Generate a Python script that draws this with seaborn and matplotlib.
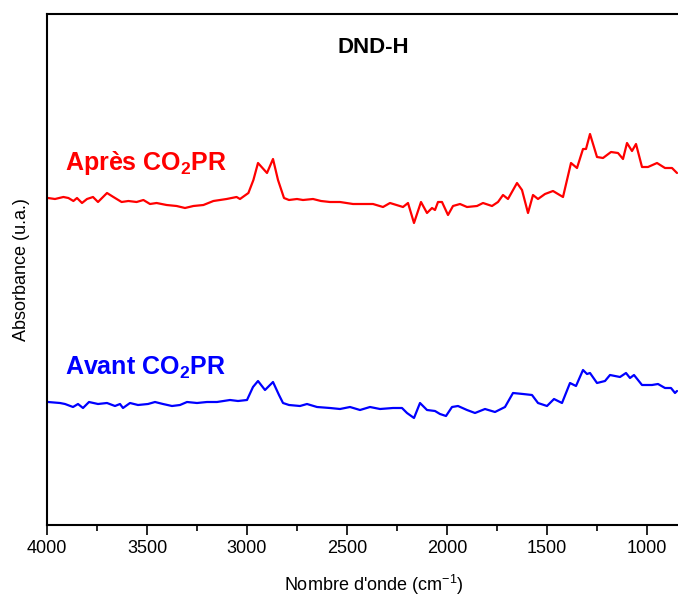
import numpy as np
import pandas as pd

import matplotlib
matplotlib.use("Agg")
import matplotlib.pyplot as plt
import seaborn as sns
from matplotlib.ticker import MultipleLocator


# Data (wavenumber in cm-1, absorbance in arbitrary units)

apres_wn = [3995, 3960, 3918, 3893, 3868, 3850, 3825, 3800, 3770, 3745,
            3700, 3668, 3627, 3593, 3552, 3518, 3485, 3452, 3402, 3352,
            3310, 3268, 3218, 3168, 3102, 3052, 3035, 2993, 2968, 2945,
            2900, 2870, 2845, 2815, 2790, 2750, 2720, 2670, 2630, 2585,
            2535, 2470, 2370, 2320, 2285, 2220, 2195, 2165, 2130, 2100,
            2075, 2060, 2045, 2025, 1995, 1970, 1935, 1900, 1850, 1820,
            1775, 1745, 1720, 1695, 1650, 1625, 1595, 1570, 1545, 1510,
            1470, 1420, 1380, 1350, 1320, 1305, 1285, 1250, 1220, 1180,
            1145, 1120, 1100, 1075, 1055, 1025, 995, 950, 910, 875, 850]
apres_abs = [3.27, 3.26, 3.28, 3.27, 3.24, 3.27, 3.22, 3.26, 3.28, 3.23,
             3.32, 3.28, 3.23, 3.24, 3.23, 3.25, 3.21, 3.22, 3.20, 3.19,
             3.17, 3.19, 3.20, 3.24, 3.26, 3.28, 3.26, 3.32, 3.45, 3.62,
             3.52, 3.66, 3.45, 3.27, 3.25, 3.26, 3.25, 3.26, 3.24, 3.23,
             3.23, 3.21, 3.21, 3.18, 3.22, 3.18, 3.22, 3.02, 3.23, 3.12,
             3.17, 3.15, 3.23, 3.23, 3.10, 3.19, 3.21, 3.18, 3.19, 3.22,
             3.19, 3.23, 3.30, 3.26, 3.42, 3.35, 3.12, 3.30, 3.26, 3.31,
             3.34, 3.28, 3.62, 3.57, 3.76, 3.76, 3.91, 3.68, 3.67, 3.73,
             3.72, 3.66, 3.82, 3.74, 3.81, 3.58, 3.58, 3.62, 3.57, 3.57,
             3.52]

avant_wn = [3995, 3935, 3910, 3870, 3845, 3820, 3790, 3745, 3700, 3660,
            3635, 3620, 3585, 3545, 3495, 3460, 3420, 3375, 3335, 3300,
            3250, 3200, 3150, 3085, 3045, 3000, 2970, 2945, 2910, 2870,
            2840, 2820, 2790, 2735, 2700, 2650, 2585, 2535, 2485, 2435,
            2385, 2335, 2270, 2225, 2200, 2165, 2135, 2100, 2060, 2035,
            2005, 1975, 1945, 1900, 1860, 1810, 1760, 1710, 1670, 1620,
            1575, 1545, 1500, 1465, 1425, 1385, 1355, 1320, 1300, 1285,
            1250, 1210, 1185, 1135, 1105, 1085, 1065, 1025, 975, 945,
            910, 880, 860, 850]
avant_abs = [1.23, 1.22, 1.21, 1.18, 1.21, 1.17, 1.23, 1.21, 1.22, 1.19,
             1.21, 1.17, 1.22, 1.20, 1.21, 1.23, 1.21, 1.19, 1.20, 1.23,
             1.22, 1.23, 1.23, 1.25, 1.24, 1.25, 1.38, 1.44, 1.35, 1.43,
             1.30, 1.22, 1.20, 1.19, 1.21, 1.18, 1.17, 1.16, 1.18, 1.15,
             1.18, 1.16, 1.17, 1.17, 1.12, 1.07, 1.22, 1.15, 1.14, 1.11,
             1.09, 1.18, 1.19, 1.15, 1.12, 1.16, 1.13, 1.18, 1.32, 1.31,
             1.30, 1.22, 1.19, 1.26, 1.22, 1.42, 1.39, 1.55, 1.51, 1.52,
             1.42, 1.44, 1.50, 1.48, 1.52, 1.47, 1.50, 1.40, 1.40, 1.41,
             1.37, 1.37, 1.32, 1.34]

x_ticks = [4000, 3500, 3000, 2500, 2000, 1500, 1000]


df_apres = pd.DataFrame({"wn": apres_wn, "abs": apres_abs})
df_avant = pd.DataFrame({"wn": avant_wn, "abs": avant_abs})


sns.set_style("ticks")
plt.rcParams["font.family"] = ["Liberation Sans", "DejaVu Sans"]
plt.rcParams["mathtext.fontset"] = "custom"
plt.rcParams["mathtext.rm"] = "Liberation Sans"
plt.rcParams["mathtext.bf"] = "Liberation Sans:bold"
plt.rcParams["text.color"] = "black"
plt.rcParams["axes.labelcolor"] = "black"

fig = plt.figure(figsize=(6.78, 5.98), dpi=100)
ax = fig.add_axes([47 / 678, 73 / 598, 653 / 678, 511 / 598])

sns.lineplot(data=df_apres, x="wn", y="abs", color="#ff0000",
             linewidth=1.6, ax=ax, sort=False)
sns.lineplot(data=df_avant, x="wn", y="abs", color="#0000ff",
             linewidth=1.6, ax=ax, sort=False)

ax.set_xlim(4000, 735)
ax.set_ylim(0, 5.11)

ax.set_xticks(x_ticks)
ax.xaxis.set_minor_locator(MultipleLocator(250))
ax.tick_params(axis="x", which="major", length=7, width=1.2,
               direction="out", labelsize=13, colors="black")
ax.tick_params(axis="x", which="minor", length=4, width=1.2,
               direction="out", colors="black")
ax.set_yticks([])

for side in ["left", "bottom", "top"]:
    ax.spines[side].set_linewidth(1.5)
    ax.spines[side].set_color("black")
ax.spines["right"].set_visible(False)

ax.set_xlabel("Nombre d'onde (cm$^{-1}$)", fontsize=13, labelpad=12)
ax.set_ylabel("Absorbance (u.a.)", fontsize=13, labelpad=12)

ax.text(0.5, 0.935, "DND-H", transform=ax.transAxes, ha="center",
        va="center", fontsize=16, fontweight="bold")

ax.text(3910, 3.62, "Après CO$_\\mathbf{2}$PR", color="#ff0000",
        fontsize=18, fontweight="bold", va="center", ha="left")
ax.text(3910, 1.57, "Avant CO$_\\mathbf{2}$PR", color="#0000ff",
        fontsize=18, fontweight="bold", va="center", ha="left")

plt.savefig("out.png", dpi=100)
